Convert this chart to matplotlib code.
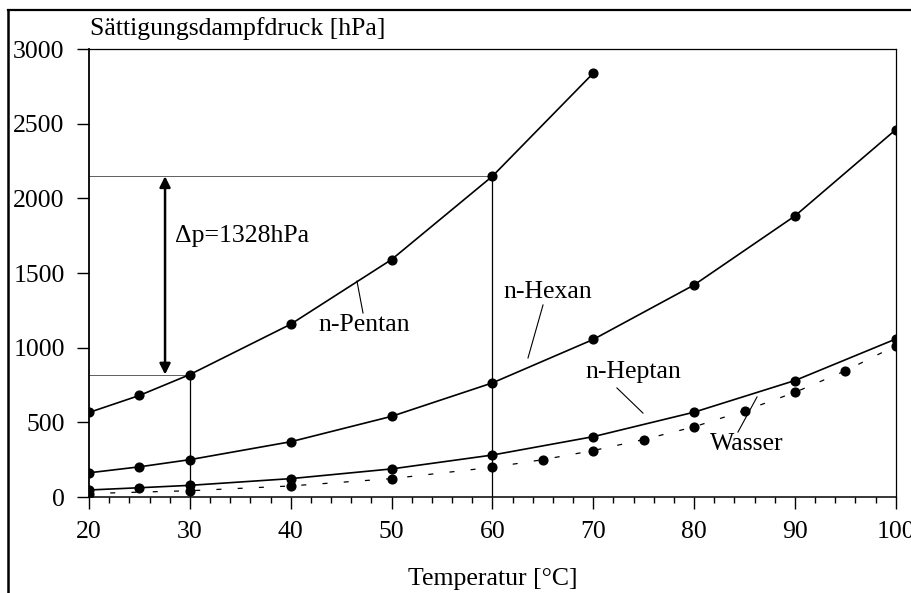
import numpy as np
import matplotlib
matplotlib.use("Agg")
import matplotlib.pyplot as plt
from matplotlib.lines import Line2D
from matplotlib.ticker import MultipleLocator

plt.rcParams['font.family'] = ['Liberation Serif', 'DejaVu Serif']

# Saettigungsdampfdruck [hPa] over temperature [degC]
t_pentan = [20, 25, 30, 40, 50, 60, 70]
p_pentan = [566, 680, 820, 1157, 1590, 2148, 2838]

t_hexan = [20, 25, 30, 40, 50, 60, 70, 80, 90, 100]
p_hexan = [162, 202, 250, 370, 540, 764, 1055, 1420, 1882, 2460]

t_heptan = [20, 25, 30, 40, 50, 60, 70, 80, 90, 100]
p_heptan = [47, 62, 78, 123, 188, 281, 404, 568, 780, 1058]

t_wasser = [20, 30, 40, 50, 60, 65, 70, 75, 80, 85, 90, 95, 100]
p_wasser = [23, 42, 74, 123, 199, 250, 311, 385, 470, 578, 701, 845, 1013]

t_low, t_high = 30, 60
p_low = p_pentan[t_pentan.index(t_low)]
p_high = p_pentan[t_pentan.index(t_high)]
dp = p_high - p_low

W, H = 911, 593
fig = plt.figure(figsize=(W / 100, H / 100), dpi=100)
ax = fig.add_axes([89 / W, 1 - 497 / H, (895.8 - 89) / W, (497 - 49) / H])

# outer frame (top and left edges only visible)
fig.add_artist(Line2D([8 / W, 1.0], [1 - 10 / H, 1 - 10 / H], transform=fig.transFigure,
                      color='black', lw=1.6))
fig.add_artist(Line2D([8 / W, 8 / W], [0.0, 1 - 10 / H], transform=fig.transFigure,
                      color='black', lw=1.8))

# guide lines for the delta p construction
ax.plot([20, t_high], [p_high, p_high], color='#444444', lw=0.6)
ax.plot([t_high, t_high], [0, p_high], color='black', lw=0.9)
ax.plot([20, t_low], [p_low, p_low], color='#444444', lw=0.6)
ax.plot([t_low, t_low], [0, p_low], color='black', lw=0.9)

mk = dict(marker='o', ms=6.3, mfc='black', mec='black', color='black')
ax.plot(t_pentan, p_pentan, lw=1.2, **mk)
ax.plot(t_hexan, p_hexan, lw=1.2, **mk)
ax.plot(t_heptan, p_heptan, lw=1.2, **mk)
ax.plot(t_wasser, p_wasser, lw=0.9, dashes=(4, 13), **mk)

# double arrow
ax.annotate('', xy=(27.54, p_high), xytext=(27.54, p_low),
            arrowprops=dict(arrowstyle='<|-|>', color='black', lw=1.8,
                            mutation_scale=16, shrinkA=0, shrinkB=0))
ax.text(28.53, 1748, '\u0394p=%dhPa' % dp, fontsize=18.5, va='center', ha='left')

# curve labels with leader lines
labels = [
    ('n-Pentan', (47.27, 1152), (46.57, 1446), (47.17, 1232)),
    ('n-Hexan', (65.51, 1373), (65.02, 1286), (63.53, 931)),
    ('n-Heptan', (73.94, 837), (72.35, 730), (74.93, 562)),
    ('Wasser', (85.25, 355), (84.35, 435), (86.24, 670)),
]
for name, pos, a, b in labels:
    ax.text(pos[0], pos[1], name, fontsize=18.5, ha='center', va='center')
    ax.plot([a[0], b[0]], [a[1], b[1]], color='black', lw=0.8)

ax.set_xlim(20, 100)
ax.set_ylim(0, 3000)
ax.xaxis.set_major_locator(MultipleLocator(10))
ax.xaxis.set_minor_locator(MultipleLocator(2))
ax.yaxis.set_major_locator(MultipleLocator(500))
ax.tick_params(axis='both', which='major', direction='out', length=8.5, width=1.0,
               labelsize=18.5, color='black')
ax.tick_params(axis='x', which='major', pad=9)
ax.tick_params(axis='y', which='major', pad=9)
ax.tick_params(axis='x', which='minor', direction='out', length=4.5, width=1.0)
for s in ax.spines.values():
    s.set_linewidth(0.9)
ax.spines['left'].set_linewidth(1.3)
ax.spines['bottom'].set_linewidth(1.1)

ax.set_xlabel('Temperatur [\u00b0C]', fontsize=18.5, labelpad=18)
fig.text(90 / W, 1 - 35 / H, 'S\u00e4ttigungsdampfdruck [hPa]', fontsize=18.5,
         ha='left', va='baseline')

fig.savefig('out.png', dpi=100)
